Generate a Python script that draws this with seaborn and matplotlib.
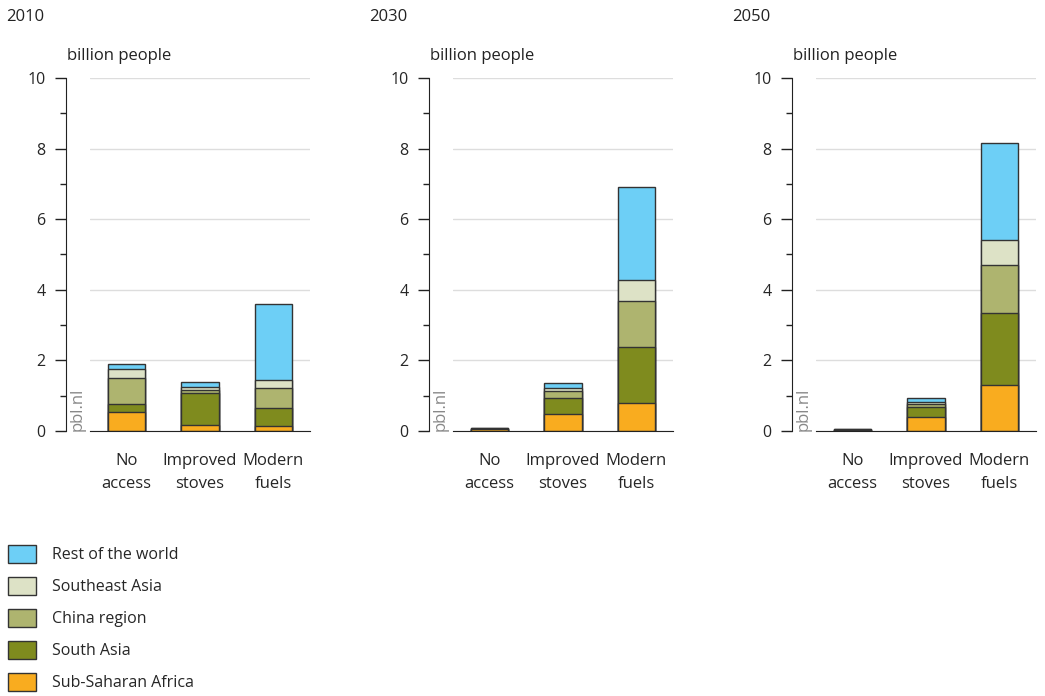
import pandas as pd
import seaborn as sns
import matplotlib.pyplot as plt
from matplotlib.patches import Patch
from matplotlib.ticker import MultipleLocator

# values in billion people
years = ['2010', '2030', '2050']
categories = ['No\naccess', 'Improved\nstoves', 'Modern\nfuels']
regions = ['Sub-Saharan Africa', 'South Asia', 'China region', 'Southeast Asia', 'Rest of the world']
colors = ['#F9AC1F', '#7F8B1E', '#AEB46F', '#DDE2C6', '#6DCFF6']

# per year, per category (no access, improved stoves, modern fuels)
ssa = {'2010': [0.53, 0.17, 0.15], '2030': [0.05, 0.47, 0.79], '2050': [0.03, 0.41, 1.31]}
south_asia = {'2010': [0.24, 0.90, 0.50], '2030': [0.02, 0.47, 1.60], '2050': [0.01, 0.26, 2.04]}
china = {'2010': [0.74, 0.09, 0.56], '2030': [0.0, 0.19, 1.28], '2050': [0.0, 0.10, 1.35]}
se_asia = {'2010': [0.25, 0.09, 0.23], '2030': [0.005, 0.08, 0.60], '2050': [0.005, 0.06, 0.71]}
rest = {'2010': [0.15, 0.13, 2.17], '2030': [0.005, 0.14, 2.63], '2050': [0.005, 0.10, 2.75]}

series = [ssa, south_asia, china, se_asia, rest]

rows = []
for yr in years:
    for ci, cat in enumerate(categories):
        for ri, reg in enumerate(regions):
            rows.append({'year': yr, 'category': cat, 'region': reg,
                         'value': series[ri][yr][ci]})
df = pd.DataFrame(rows)
# cumulative totals, for drawing the stacks from the top down
df['top'] = df.groupby(['year', 'category'])['value'].cumsum()

sns.set_style('white')
plt.rcParams['font.family'] = ['Open Sans', 'DejaVu Sans']

fig = plt.figure(figsize=(10.45, 6.96), dpi=100)
lefts = [90, 453, 816]
edge = '#333333'

for i, yr in enumerate(years):
    ax = fig.add_axes([lefts[i] / 1045, 265 / 696, 220 / 1045, 353 / 696])
    sub = df[df['year'] == yr]
    for ri in range(len(regions) - 1, -1, -1):
        part = sub[sub['region'] == regions[ri]]
        sns.barplot(data=part, x='category', y='top', order=categories,
                    color=colors[ri], saturation=1, width=0.51,
                    edgecolor=edge, linewidth=1.0, ax=ax, errorbar=None)
    ax.set_ylim(0, 10)
    ax.set_xlim(-0.5, 2.5)
    ax.set_xlabel('')
    ax.set_ylabel('')
    ax.yaxis.set_minor_locator(MultipleLocator(1))
    ax.set_yticks([0, 2, 4, 6, 8, 10])
    ax.set_yticklabels(['0', '2', '4', '6', '8', '10'])
    ax.yaxis.grid(True, color='#DDDDDD', linewidth=1)
    ax.set_axisbelow(True)
    for s in ['top', 'right']:
        ax.spines[s].set_visible(False)
    ax.spines['left'].set_position(('outward', 17))
    ax.spines['left'].set_color('#222222')
    ax.spines['bottom'].set_color('#222222')
    ax.tick_params(axis='y', which='major', direction='out', length=8, width=1,
                   color='#222222', labelsize=11.5, pad=7, left=True)
    ax.tick_params(axis='y', which='minor', direction='out', length=4, width=1,
                   color='#222222', left=True)
    ax.tick_params(axis='x', length=0, labelsize=12, pad=16)
    for lab in ax.get_xticklabels():
        lab.set_linespacing(1.55)
    ax.text(-0.058, 0.0, 'pbl.nl', transform=ax.transAxes, rotation=90,
            color='#888888', fontsize=12, ha='center', va='bottom')

    x0 = (lefts[i] - 23) / 1045
    fig.text(x0 - 0.058, 1 - 17 / 696, yr, fontsize=12, va='center', color='#222222')
    fig.text(x0 + 0.0, 1 - 56 / 696, 'billion people', fontsize=12, va='center',
             color='#222222')

handles = [Patch(facecolor=colors[ri], edgecolor=edge, linewidth=1)
           for ri in range(len(regions) - 1, -1, -1)]
labels = regions[::-1]
fig.legend(handles, labels, loc='upper left', bbox_to_anchor=(0.0, 1 - 537 / 696),
           frameon=False, fontsize=11.5, handlelength=1.75, handleheight=1.35,
           handletextpad=1.0, labelspacing=0.86, borderaxespad=0.0, borderpad=0.5)

fig.savefig('out.png', dpi=100)
